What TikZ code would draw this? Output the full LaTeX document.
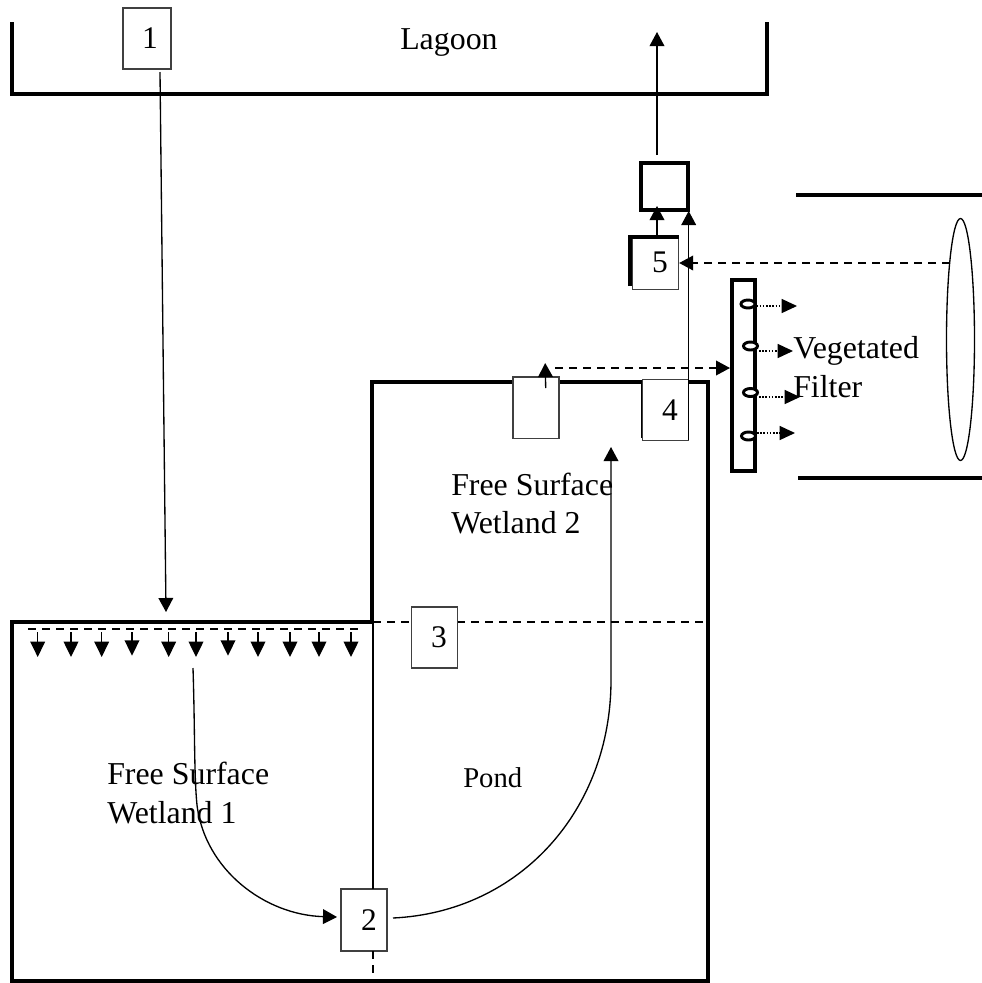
\documentclass[tikz,border=0pt]{standalone}
\usepackage{fontspec}
\setmainfont{Liberation Serif}
\usetikzlibrary{arrows.meta,shapes.geometric}
\tikzset{
  thickline/.style={line width=3pt,line cap=butt,line join=miter},
  thinline/.style={line width=1pt},
  sbox/.style={draw=black!75,fill=white,line width=1pt,minimum width=34.5pt,inner sep=0pt,font=\fontsize{23.6}{28}\selectfont},
  lbl/.style={anchor=base west,inner sep=0pt,font=\fontsize{23.9}{28}\selectfont},
  arrowtip/.style={-{Triangle[length=10.5pt,width=11pt]}},
  dropper/.style={thinline,-{Triangle[length=11.5pt,width=11pt]}},
  dashln/.style={line width=1.2pt,dash pattern=on 6pt off 4.5pt},
  dotline/.style={line width=1pt,dash pattern=on 1.2pt off 1.2pt,-{Triangle[length=11.5pt,width=10.5pt]}},
  orifice/.style={ellipse,draw,line width=2.2pt,fill=white,minimum width=10.5pt,minimum height=6pt,inner sep=0pt}
}
\begin{document}
\begin{tikzpicture}[x=0.75pt,y=-0.75pt]
\useasboundingbox (0,0) rectangle (982,983);
\fill[white] (0,0) rectangle (982,983);
% outlines
\draw[thickline] (12,22) -- (12,94) -- (767,94) -- (767,22);
\draw[thickline] (12,981) -- (12,622) -- (372,622) -- (372,381.5) -- (708,381.5) -- (708,981) -- cycle;
\draw[thickline] (796,195) -- (982,195);
\draw[thickline] (798,478) -- (982,478);
% vegetated filter
\node[draw,line width=3pt,minimum width=17.25pt,minimum height=143pt,inner sep=0pt] (filter) at (743.5,375.5) {};
\node[ellipse,draw,line width=1pt,minimum width=21pt,minimum height=181.5pt,inner sep=0pt] (bigell) at (960.5,339.5) {};
% dashed lines under boxes
\coordinate (junction) at (373,622);
\coordinate (pondE) at (708,622);
\draw[dashln] (junction) -- (pondE);
\coordinate (dW) at (28,629);
\coordinate (dE) at (358,629);
\draw[dashln] (dW) -- (dE);
% boxes
\node[sbox,minimum width=36pt,minimum height=45.75pt] (b1) at (147,38.5) {\hspace*{4.5pt}1};
\node[sbox,minimum height=46.5pt] (b2) at (364,920) {\hspace*{7.5pt}2};
\node[sbox,minimum height=45.75pt] (b3) at (434.5,637.5) {\hspace*{6.75pt}3};
\node[sbox,minimum height=46pt] (b6) at (536,407.5) {};
\draw[line width=1.5pt] (641.5,380) -- (641.5,438);
\node[sbox,minimum height=46pt] (b4) at (665.5,410) {\hspace*{6.75pt}4};
\draw[line width=3pt] (630,286) -- (630,237);
\node[sbox,minimum height=40pt] (b5) at (655.5,262.5) {\hspace*{6.75pt}\raisebox{-3.4pt}{5}};
\draw[line width=3pt] (628,237) -- (679,237);
\node[draw,line width=3pt,minimum width=35.25pt,minimum height=35.25pt,inner sep=0pt] (b7) at (664.5,186.5) {};
% connectors
\coordinate (inlet) at (166,612);
\coordinate (b1out) at (160,72);
\draw[thinline,arrowtip] (b1out) -- (inlet);
\coordinate (outTip) at (657,32);
\coordinate (outStart) at (657,155);
\draw[thinline,arrowtip] (outStart) -- (outTip);
\coordinate (b5up) at (657,236);
\coordinate (b7in) at (657,206);
\draw[thinline,arrowtip] (b5up) -- (b7in);
\coordinate (b4top) at (688.7,211);
\coordinate (b4ne) at (688.7,380);
\coordinate (b4se) at (688.7,440);
\draw[thinline,arrowtip] (b4ne) -- (b4top);
\draw[thinline] (b4ne) -- (b4se);
\coordinate (ellL) at (950,263);
\draw[dashln,arrowtip] (ellL) -- (b5.east |- ellL);
\coordinate (b6a) at (545.7,388);
\coordinate (b6b) at (545.2,363);
\draw[thinline,arrowtip] (b6a) -- (b6b);
\coordinate (dashS) at (555,368);
\draw[dashln,arrowtip] (dashS) -- (filter.west |- dashS);
\coordinate (b2n) at (373,889);
\coordinate (b2s) at (373,951);
\coordinate (bot) at (373,979);
\draw[thinline] (junction) -- (b2n);
\draw[dashln] (b2s) -- (bot);
\coordinate (c1s) at (193,668);
\coordinate (c1e) at (337,917);
\draw[thinline,arrowtip] (c1s) .. controls (195,730) and (194,775) .. (197,805) .. controls (205,870) and (265,915) .. (c1e);
\coordinate (c2s) at (393,918);
\coordinate (c2e) at (611,447);
\draw[thinline,arrowtip] (c2s) .. controls (520,912) and (611,810) .. (611,680) -- (c2e);
% droppers
\foreach \x/\tp in {37.7/657,71/657,101.7/657,132/655.7,168.7/657,196/657,228/655.7,258/657,290/657,319/657,351/657}
  \draw[dropper] (\x,632) -- (\x,\tp);
% orifices
\node[orifice] (o1) at (748,304) {};
\node[orifice] (o2) at (750.5,346) {};
\node[orifice] (o3) at (750.5,392.5) {};
\node[orifice] (o4) at (748.5,436) {};
\coordinate (a1) at (797,306);
\coordinate (a2) at (793,351);
\coordinate (a3) at (800,397);
\coordinate (a4) at (795,433);
\draw[dotline] (o1.east |- a1) -- (a1);
\draw[dotline] (o2.east |- a2) -- (a2);
\draw[dotline] (o3.east |- a3) -- (a3);
\draw[dotline] (o4.east |- a4) -- (a4);
% labels
\node[lbl] (tLagoon) at (400,49) {Lagoon};
\node[lbl,font=\fontsize{21.5}{26}\selectfont] (tPond) at (463,787) {Pond};
\node[lbl] (tF1a) at (107,784) {Free Surface};
\node[lbl] (tF1b) at (107,823) {Wetland 1};
\node[lbl] (tF2a) at (451,495) {Free Surface};
\node[lbl] (tF2b) at (451,533) {Wetland 2};
\node[lbl] (tVa) at (793,358.5) {Vegetated};
\node[lbl] (tVb) at (793,397) {Filter};
\end{tikzpicture}
\end{document}
